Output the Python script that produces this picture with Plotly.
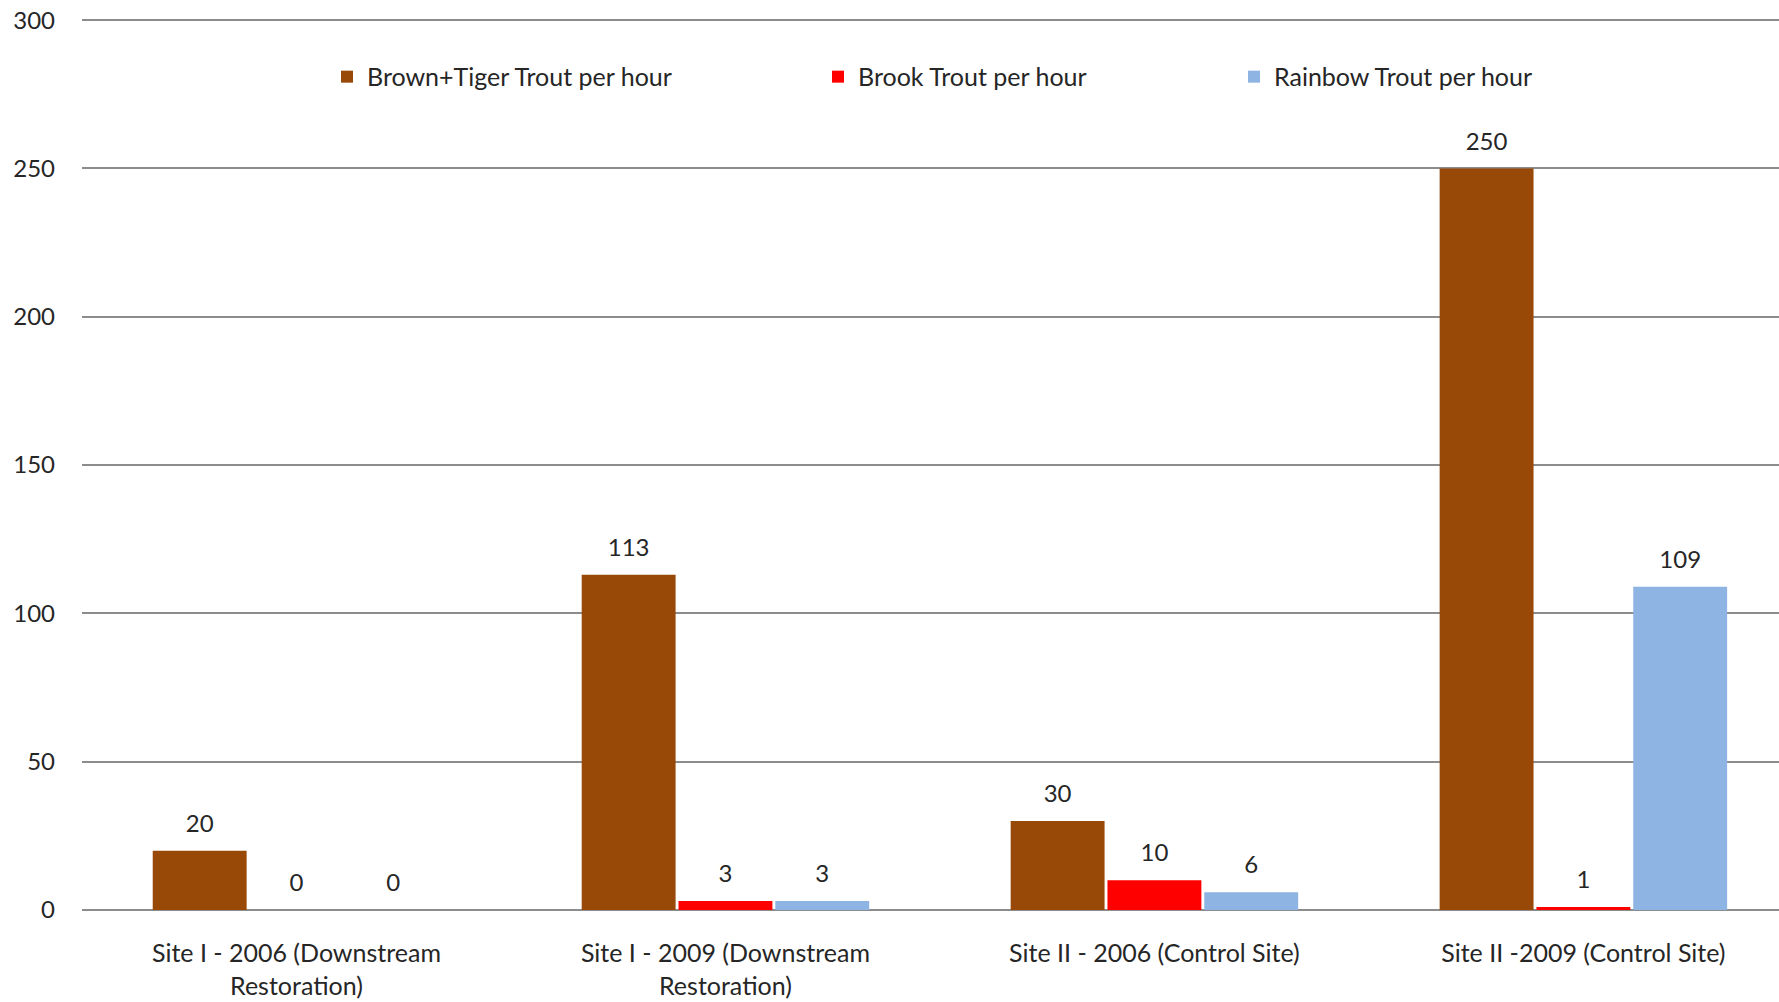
import plotly.graph_objects as go

categories = ["Site I - 2006 (Downstream<br>Restoration)",
              "Site I - 2009 (Downstream<br>Restoration)",
              "Site II - 2006 (Control Site)",
              "Site II -2009 (Control Site)"]
brown_tiger = [20, 113, 30, 250]
brook = [0, 3, 10, 1]
rainbow = [0, 3, 6, 109]
series_names = ["Brown+Tiger Trout per hour", "Brook Trout per hour", "Rainbow Trout per hour"]
series_colors = ["#984807", "#FF0000", "#8DB4E2"]
y_ticks = [0, 50, 100, 150, 200, 250, 300]

FONT = "Lato"
TXT = "#262626"

fig = go.Figure()
legend_ids = ["legend", "legend2", "legend3"]
all_vals = [brown_tiger, brook, rainbow]
for vals, name, color, lg in zip(all_vals, series_names, series_colors, legend_ids):
    fig.add_trace(go.Bar(
        x=categories, y=vals, name=name, marker_color=color, marker_line_width=0,
        legend=lg, showlegend=True,
    ))
# value labels (grouped scatter text, aligned with the bars)
for vals, name in zip(all_vals, series_names):
    fig.add_trace(go.Scatter(
        x=categories, y=vals, mode="markers+text", text=[str(v) for v in vals],
        textposition="top center", textfont=dict(family=FONT, size=24, color=TXT),
        marker=dict(size=19, color="rgba(0,0,0,0)"), showlegend=False,
        hoverinfo="skip", cliponaxis=False, name=name + " label",
    ))

L, W = 82, 1697
legend_common = dict(orientation="h", yanchor="middle", y=0.935, xanchor="left",
                     font=dict(family=FONT, size=25, color=TXT),
                     bgcolor="rgba(0,0,0,0)", borderwidth=0)
fig.update_layout(
    width=1779, height=1002, showlegend=True,
    margin=dict(l=L, r=0, t=19, b=92),
    paper_bgcolor="white", plot_bgcolor="white",
    barmode="group", bargap=0.323, bargroupgap=0.03,
    scattermode="group", scattergap=0.323,
    font=dict(family=FONT, size=24, color=TXT),
    legend=dict(x=(327 - L) / W, **legend_common),
    legend2=dict(x=(818 - L) / W, **legend_common),
    legend3=dict(x=(1234 - L) / W, **legend_common),
    xaxis=dict(range=[-0.5, 3.456], showgrid=False, showline=False, ticks="",
               tickfont=dict(family=FONT, size=25, color=TXT), ticklabelstandoff=26),
    yaxis=dict(range=[0, 300.4], tickvals=y_ticks, showgrid=True, gridcolor="#8C8C8C",
               gridwidth=2, zeroline=True, zerolinecolor="#8C8C8C", zerolinewidth=2,
               showline=False, ticks="", tickfont=dict(family=FONT, size=24, color=TXT),
               ticklabelstandoff=26),
)
fig.write_html("out.html")
